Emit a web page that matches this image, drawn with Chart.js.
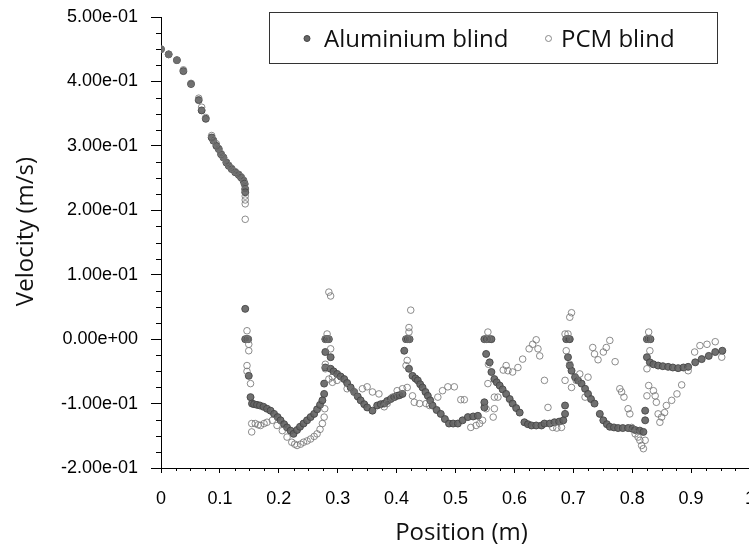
<!DOCTYPE html>
<html>
<head>
<meta charset="utf-8">
<script src="https://cdn.jsdelivr.net/npm/chart.js@4.4.0/dist/chart.umd.min.js"></script>
<style>
  html, body { margin: 0; padding: 0; background: #fff; overflow: hidden; }
  #wrap { width: 770px; height: 547px; }
</style>
</head>
<body>
<div id="wrap"><canvas id="velocityChart" width="770" height="547"></canvas></div>
<script>
const xTickLabels = ["0", "0.1", "0.2", "0.3", "0.4", "0.5", "0.6", "0.7", "0.8", "0.9", "1"];
const yTickLabels = ["-2.00e-01", "-1.00e-01", "0.00e+00", "1.00e-01", "2.00e-01", "3.00e-01", "4.00e-01", "5.00e-01"];
const seriesNames = ["Aluminium blind", "PCM blind"];

// [position (m), velocity (m/s)]
const aluminiumPoints = [
  [0, 0.45], [0.013, 0.442], [0.027, 0.433], [0.038, 0.416], [0.051, 0.396], [0.064, 0.371],
  [0.069, 0.355], [0.076, 0.342], [0.086, 0.313], [0.089, 0.308], [0.094, 0.300], [0.098, 0.295],
  [0.102, 0.287], [0.106, 0.282], [0.111, 0.274], [0.115, 0.269], [0.120, 0.264], [0.126, 0.259],
  [0.132, 0.255], [0.136, 0.251], [0.140, 0.246], [0.142, 0.241], [0.143, 0.233], [0.143, 0.228],
  [0.143, 0.047], [0.143, 0], [0.146, 0], [0.148, 0], [0.149, -0.057], [0.152, -0.090],
  [0.1545, -0.100], [0.158, -0.101], [0.163, -0.102], [0.168, -0.103], [0.174, -0.105], [0.180, -0.108],
  [0.186, -0.111], [0.192, -0.116], [0.198, -0.121], [0.203, -0.126], [0.209, -0.132], [0.214, -0.137],
  [0.220, -0.142], [0.225, -0.147], [0.231, -0.141], [0.236, -0.136], [0.242, -0.131], [0.248, -0.126],
  [0.254, -0.121], [0.260, -0.116], [0.265, -0.109], [0.270, -0.102], [0.274, -0.095], [0.277, -0.085],
  [0.277, -0.069], [0.279, -0.044], [0.279, -0.020], [0.279, 0], [0.282, 0], [0.285, 0],
  [0.288, -0.028], [0.288, -0.046], [0.293, -0.050], [0.299, -0.054], [0.305, -0.058], [0.311, -0.062],
  [0.316, -0.068], [0.322, -0.075], [0.328, -0.082], [0.334, -0.089], [0.339, -0.095], [0.345, -0.101],
  [0.350, -0.106], [0.359, -0.111], [0.367, -0.103], [0.373, -0.101], [0.379, -0.100], [0.384, -0.096],
  [0.390, -0.093], [0.396, -0.090], [0.401, -0.088], [0.405, -0.087], [0.410, -0.085], [0.413, -0.018],
  [0.416, 0], [0.419, 0], [0.422, 0], [0.421, -0.046], [0.427, -0.057], [0.432, -0.061],
  [0.436, -0.064], [0.440, -0.070], [0.444, -0.075], [0.449, -0.082], [0.453, -0.088], [0.457, -0.095],
  [0.461, -0.103], [0.468, -0.110], [0.475, -0.116], [0.482, -0.124], [0.489, -0.131], [0.496, -0.131],
  [0.504, -0.131], [0.512, -0.126], [0.521, -0.121], [0.530, -0.120], [0.538, -0.119], [0.549, -0.106],
  [0.549, -0.098], [0.552, -0.023], [0.549, 0], [0.553, 0], [0.557, 0], [0.561, 0],
  [0.558, -0.036], [0.561, -0.051], [0.566, -0.062], [0.570, -0.067], [0.575, -0.072], [0.580, -0.078],
  [0.586, -0.085], [0.592, -0.093], [0.597, -0.100], [0.603, -0.107], [0.609, -0.114], [0.617, -0.129],
  [0.623, -0.132], [0.629, -0.134], [0.637, -0.134], [0.646, -0.134], [0.651, -0.131], [0.660, -0.131],
  [0.668, -0.129], [0.676, -0.128], [0.683, -0.126], [0.686, -0.116], [0.686, -0.103], [0.688, 0],
  [0.691, 0], [0.694, 0], [0.691, -0.028], [0.694, -0.041], [0.697, -0.049], [0.703, -0.059],
  [0.708, -0.064], [0.714, -0.069], [0.720, -0.077], [0.725, -0.085], [0.730, -0.093], [0.736, -0.100],
  [0.745, -0.116], [0.751, -0.126], [0.757, -0.132], [0.762, -0.136], [0.769, -0.137], [0.776, -0.138],
  [0.784, -0.138], [0.793, -0.138], [0.800, -0.139], [0.805, -0.141], [0.813, -0.142], [0.819, -0.144],
  [0.822, -0.126], [0.822, -0.111], [0.825, 0], [0.828, 0], [0.831, 0], [0.825, -0.028],
  [0.830, -0.036], [0.836, -0.039], [0.844, -0.041], [0.852, -0.042], [0.861, -0.043], [0.869, -0.044],
  [0.878, -0.045], [0.887, -0.044], [0.895, -0.043], [0.907, -0.036], [0.918, -0.031], [0.930, -0.026],
  [0.941, -0.020], [0.953, -0.018]
];

const pcmPoints = [
  [0, 0.45], [0.013, 0.442], [0.027, 0.433], [0.038, 0.418], [0.051, 0.397], [0.064, 0.374],
  [0.069, 0.360], [0.076, 0.344], [0.086, 0.316], [0.089, 0.309], [0.094, 0.303], [0.098, 0.296],
  [0.102, 0.288], [0.106, 0.282], [0.111, 0.275], [0.115, 0.270], [0.120, 0.265], [0.126, 0.260],
  [0.132, 0.256], [0.136, 0.252], [0.140, 0.247], [0.142, 0.240], [0.143, 0.232], [0.143, 0.222],
  [0.143, 0.216], [0.143, 0.210], [0.143, 0.186],
  [0.146, 0.013], [0.145, 0], [0.148, 0], [0.149, -0.008], [0.149, -0.018], [0.146, -0.041],
  [0.146, -0.050], [0.152, -0.069], [0.154, -0.131], [0.154, -0.144], [0.160, -0.131], [0.165, -0.133],
  [0.169, -0.134], [0.175, -0.131], [0.180, -0.129], [0.189, -0.126], [0.197, -0.134], [0.206, -0.142],
  [0.214, -0.152], [0.222, -0.160], [0.227, -0.163], [0.231, -0.165], [0.237, -0.163], [0.242, -0.160],
  [0.248, -0.158], [0.254, -0.155], [0.260, -0.151], [0.265, -0.147], [0.270, -0.140], [0.274, -0.131],
  [0.277, -0.121], [0.278, -0.108], [0.279, -0.046], [0.279, -0.039], [0.282, 0.008], [0.279, 0],
  [0.284, 0], [0.285, 0.073], [0.288, 0.067], [0.288, -0.015], [0.285, -0.062], [0.291, -0.059],
  [0.299, -0.064], [0.291, -0.067], [0.316, -0.077], [0.328, -0.082], [0.342, -0.077], [0.350, -0.074],
  [0.359, -0.082], [0.370, -0.085], [0.379, -0.105], [0.384, -0.100], [0.393, -0.090], [0.401, -0.080],
  [0.410, -0.077], [0.418, -0.075], [0.416, -0.041], [0.418, -0.033], [0.421, 0.011], [0.421, 0.018],
  [0.424, 0.045], [0.417, 0], [0.421, 0], [0.427, -0.088], [0.430, -0.098], [0.439, -0.100],
  [0.450, -0.100], [0.456, -0.103], [0.470, -0.090], [0.478, -0.080], [0.487, -0.074], [0.498, -0.074],
  [0.509, -0.094], [0.515, -0.094], [0.526, -0.137], [0.535, -0.134], [0.541, -0.131], [0.546, -0.126],
  [0.552, -0.108], [0.555, 0.011], [0.556, -0.039], [0.555, -0.069], [0.551, 0], [0.556, 0],
  [0.564, -0.121], [0.566, -0.108], [0.566, -0.090], [0.572, -0.090], [0.581, -0.048], [0.586, -0.041],
  [0.589, -0.049], [0.597, -0.051], [0.606, -0.044], [0.614, -0.031], [0.625, -0.015], [0.631, -0.008],
  [0.637, -0.001], [0.640, -0.015], [0.643, -0.026], [0.651, -0.064], [0.657, -0.106], [0.665, -0.137],
  [0.672, -0.138], [0.680, -0.137], [0.686, -0.064], [0.686, 0.008], [0.688, -0.018], [0.691, 0.008],
  [0.694, 0.034], [0.697, 0.041], [0.690, 0], [0.694, -0.039], [0.697, -0.075], [0.705, -0.064],
  [0.711, -0.054], [0.720, -0.090], [0.725, -0.059], [0.733, -0.013], [0.736, -0.023], [0.742, -0.032],
  [0.751, -0.020], [0.756, -0.013], [0.762, -0.002], [0.771, -0.035], [0.779, -0.077], [0.782, -0.082],
  [0.786, -0.090], [0.793, -0.108], [0.796, -0.116], [0.799, -0.137], [0.805, -0.147], [0.810, -0.152],
  [0.813, -0.157], [0.816, -0.165], [0.819, -0.170], [0.822, -0.157], [0.825, -0.088], [0.825, -0.046],
  [0.828, 0.011], [0.830, -0.018], [0.826, 0], [0.829, 0], [0.828, -0.072], [0.836, -0.080],
  [0.839, -0.088], [0.841, -0.098], [0.844, -0.116], [0.847, -0.129], [0.850, -0.121], [0.855, -0.114],
  [0.858, -0.103], [0.867, -0.095], [0.876, -0.085], [0.884, -0.071], [0.895, -0.049], [0.906, -0.020],
  [0.915, -0.010], [0.927, -0.008], [0.941, -0.004], [0.952, -0.028]
];

const TICK_FONT = { family: "'Liberation Sans', Arial, sans-serif", size: 18 };
const TITLE_FONT = "24px 'Open Sans', sans-serif";

function toXY(points) {
  return points.map((p) => ({ x: p[0], y: p[1] }));
}

// minor ticks every 0.025, majors every 0.1 (drawn by Chart.js)
const minorTicks = {
  id: "minorTicks",
  afterDraw(chart) {
    let ctx = chart.ctx;
    let xs = chart.scales.x;
    let ys = chart.scales.y;
    ctx.save();
    ctx.strokeStyle = "#000";
    ctx.lineWidth = 1;
    ctx.beginPath();
    xs.ticks.forEach(function (t, i) {
      if (i % 4 === 0) return;
      let px = Math.round(xs.getPixelForValue(t.value)) + 0.5;
      ctx.moveTo(px, xs.top);
      ctx.lineTo(px, xs.top + 3);
    });
    ys.ticks.forEach(function (t, i) {
      if (i % 4 === 0) return;
      let py = Math.round(ys.getPixelForValue(t.value)) + 0.5;
      ctx.moveTo(ys.right - 5, py);
      ctx.lineTo(ys.right, py);
    });
    ctx.stroke();
    ctx.restore();
  },
};

const axisTitles = {
  id: "axisTitles",
  afterDraw(chart) {
    let ctx = chart.ctx;
    let area = chart.chartArea;
    ctx.save();
    ctx.fillStyle = "#111";
    ctx.font = TITLE_FONT;
    ctx.textAlign = "center";
    ctx.textBaseline = "alphabetic";
    ctx.fillText("Position (m)", (area.left + area.right) / 2 + 6, 540);
    ctx.translate(33, (area.top + area.bottom) / 2 - 11);
    ctx.rotate(-Math.PI / 2);
    ctx.fillText("Velocity (m/s)", 0, 0);
    ctx.restore();
  },
};

const boxLegend = {
  id: "boxLegend",
  afterDraw(chart) {
    let ctx = chart.ctx;
    ctx.save();
    ctx.fillStyle = "#fff";
    ctx.fillRect(270, 12, 448, 52);
    ctx.strokeStyle = "#333";
    ctx.lineWidth = 1;
    ctx.strokeRect(269.5, 12.5, 448, 51);
    ctx.font = TITLE_FONT;
    ctx.textBaseline = "alphabetic";
    ctx.textAlign = "left";

    // aluminium marker
    ctx.beginPath();
    ctx.arc(307, 38.5, 3, 0, Math.PI * 2);
    ctx.fillStyle = "#666";
    ctx.fill();
    ctx.strokeStyle = "#444";
    ctx.stroke();
    ctx.fillStyle = "#111";
    ctx.fillText(chart.data.datasets[0].label, 324, 46.5);

    // pcm marker
    ctx.beginPath();
    ctx.arc(548.5, 38.5, 3, 0, Math.PI * 2);
    ctx.strokeStyle = "#888";
    ctx.stroke();
    ctx.fillStyle = "#111";
    ctx.fillText(chart.data.datasets[1].label, 561, 46.5);
    ctx.restore();
  },
};

const whiteBg = {
  id: "whiteBg",
  beforeDraw(chart) {
    let ctx = chart.ctx;
    ctx.save();
    ctx.fillStyle = "#fff";
    ctx.fillRect(0, 0, chart.width, chart.height);
    ctx.restore();
  },
};

let ctx = document.getElementById("velocityChart").getContext("2d");
let velocityChart = new Chart(ctx, {
  type: "scatter",
  data: {
    datasets: [
      {
        label: seriesNames[0],
        data: toXY(aluminiumPoints),
        order: 1,
        pointRadius: 3.5,
        pointBackgroundColor: "rgba(100,100,100,0.92)",
        pointBorderColor: "rgba(70,70,70,0.9)",
        pointBorderWidth: 1,
      },
      {
        label: seriesNames[1],
        data: toXY(pcmPoints),
        order: 0,
        pointRadius: 3.3,
        pointBackgroundColor: "rgba(255,255,255,0)",
        pointBorderColor: "rgba(120,120,120,0.85)",
        pointBorderWidth: 1,
      },
    ],
  },
  options: {
    responsive: false,
    animation: false,
    layout: { padding: { top: 17, right: 20, bottom: 0, left: 0 } },
    plugins: {
      legend: { display: false },
      tooltip: { enabled: false },
    },
    scales: {
      x: {
        type: "linear",
        min: 0,
        max: 1,
        afterFit(scale) {
          scale.height = 79;
          scale.paddingLeft = 0;
          scale.paddingRight = 0;
        },
        border: { display: true, color: "#000", width: 1 },
        grid: {
          drawOnChartArea: false,
          drawTicks: true,
          tickLength: 5,
          tickColor: (c) => (c.index % 4 === 0 ? "#000" : "rgba(0,0,0,0)"),
        },
        ticks: {
          stepSize: 0.025,
          autoSkip: false,
          maxRotation: 0,
          padding: 15,
          color: "#000",
          font: TICK_FONT,
          callback: (v, i) => (i % 4 === 0 ? xTickLabels[i / 4] : ""),
        },
      },
      y: {
        type: "linear",
        min: -0.2,
        max: 0.5,
        afterFit(scale) {
          scale.width = 161;
          scale.paddingTop = 0;
          scale.paddingBottom = 0;
        },
        border: { display: true, color: "#000", width: 1 },
        grid: {
          drawOnChartArea: false,
          drawTicks: true,
          tickLength: 10,
          tickColor: (c) => (c.index % 4 === 0 ? "#000" : "rgba(0,0,0,0)"),
        },
        ticks: {
          stepSize: 0.025,
          autoSkip: false,
          padding: 13,
          color: "#000",
          font: TICK_FONT,
          callback: (v, i) => (i % 4 === 0 ? yTickLabels[i / 4] : ""),
        },
      },
    },
  },
  plugins: [whiteBg, minorTicks, axisTitles, boxLegend],
});
</script>
</body>
</html>
